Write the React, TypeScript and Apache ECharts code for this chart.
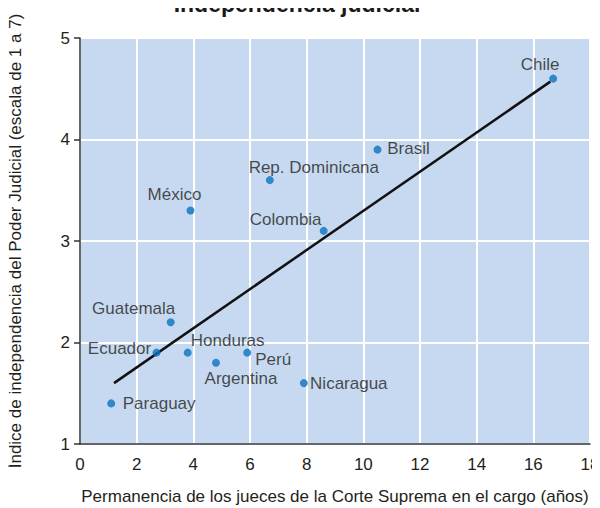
import React, { useEffect, useRef } from "react";
import * as echarts from "echarts";

const countries = ["Chile", "Brasil", "Rep. Dominicana", "México", "Colombia", "Guatemala", "Ecuador", "Honduras", "Perú", "Argentina", "Nicaragua", "Paraguay"];
const tenure = [16.7, 10.5, 6.7, 3.9, 8.6, 3.2, 2.7, 3.8, 5.9, 4.8, 7.9, 1.1];
const independence = [4.6, 3.9, 3.6, 3.3, 3.1, 2.2, 1.9, 1.9, 1.9, 1.8, 1.6, 1.4];
const trendX = [1.2, 16.6];
const trendY = [1.6, 4.57];
const xTicks = [0, 2, 4, 6, 8, 10, 12, 14, 16, 18];
const yTicks = [1, 2, 3, 4, 5];

const labelOffsets: Record<string, [number, number]> = {
  "Chile": [-13, -14],
  "Brasil": [31, -1],
  "Rep. Dominicana": [44, -13],
  "México": [-16, -16],
  "Colombia": [-38, -11],
  "Guatemala": [-37, -14],
  "Ecuador": [-37, -4],
  "Honduras": [40, -12],
  "Perú": [26, 7],
  "Argentina": [25, 16],
  "Nicaragua": [45, 0],
  "Paraguay": [48, 0],
};

const FONT = "'Liberation Sans', Arial, Helvetica, sans-serif";

export default function App() {
  const ref = useRef<HTMLDivElement>(null);
  useEffect(() => {
    if (!ref.current) return;
    const chart = echarts.init(ref.current, null, { renderer: "svg" });
    const scatterData = countries.map((c, i) => ({
      name: c,
      value: [tenure[i], independence[i]],
      label: {
        show: true,
        formatter: c,
        position: "inside",
        offset: labelOffsets[c],
        align: "center",
        verticalAlign: "middle",
      },
    }));
    chart.setOption({
      animation: false,
      backgroundColor: "#ffffff",
      textStyle: { fontFamily: FONT },
      title: {
        text: "Independencia judicial",
        left: 297,
        textAlign: "center",
        top: -8,
        padding: 0,
        textStyle: { fontFamily: FONT, fontSize: 23, fontWeight: "bold", color: "#1a1a1a" },
      },
      grid: {
        left: 80,
        right: 10,
        top: 38,
        bottom: 64,
        show: true,
        backgroundColor: "#c6d9f0",
        borderWidth: 0,
        containLabel: false,
        outerBoundsMode: "none",
      },
      xAxis: {
        type: "value",
        min: xTicks[0],
        max: xTicks[xTicks.length - 1],
        interval: 2,
        name: "Permanencia de los jueces de la Corte Suprema en el cargo (años)",
        nameLocation: "middle",
        nameGap: 44,
        nameTextStyle: { fontFamily: FONT, fontSize: 17, color: "#231f20" },
        axisLine: { show: true, lineStyle: { color: "#333333", width: 1.5 } },
        axisTick: { show: false },
        axisLabel: { fontFamily: FONT, fontSize: 17, color: "#231f20", margin: 12 },
        splitLine: { show: true, lineStyle: { color: "#ffffff", width: 2 } },
      },
      yAxis: {
        type: "value",
        min: yTicks[0],
        max: yTicks[yTicks.length - 1],
        interval: 1,
        name: "Índice de independencia del Poder Judicial (escala de 1 a 7)",
        nameLocation: "middle",
        nameGap: 56,
        nameTextStyle: { fontFamily: FONT, fontSize: 17, color: "#231f20" },
        axisLine: { show: true, lineStyle: { color: "#333333", width: 1.5 } },
        axisTick: { show: true, length: 6, lineStyle: { color: "#333333", width: 1.5 } },
        axisLabel: { fontFamily: FONT, fontSize: 17, color: "#231f20", margin: 10 },
        splitLine: { show: true, lineStyle: { color: "#ffffff", width: 2 } },
      },
      series: [
        {
          type: "line",
          data: trendX.map((x, i) => [x, trendY[i]]),
          showSymbol: false,
          symbol: "none",
          lineStyle: { color: "#111111", width: 2.5 },
          z: 2,
          silent: true,
        },
        {
          type: "scatter",
          data: scatterData,
          symbolSize: 8,
          itemStyle: { color: "#0a72c0" },
          label: { fontFamily: FONT, fontSize: 17, color: "#231f20" },
          z: 3,
        },
      ],
    });
    return () => chart.dispose();
  }, []);
  return <div ref={ref} style={{ width: 600, height: 508, marginLeft: -8, marginTop: -8 }} />;
}
